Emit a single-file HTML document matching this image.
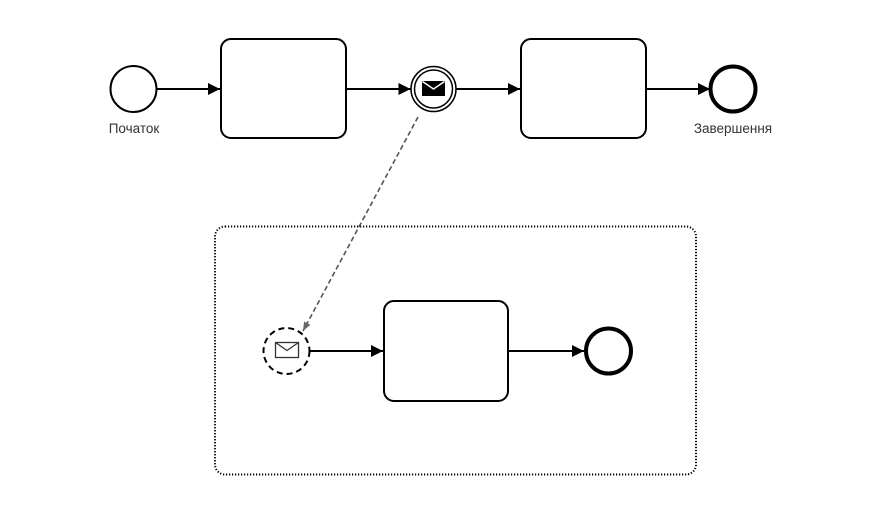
<!DOCTYPE html>
<html><head><meta charset="utf-8"><style>
html,body{margin:0;padding:0;background:#fff;}
svg{display:block;}
text{font-family:"Liberation Sans",Arial,sans-serif;font-size:13.5px;fill:#333;}
</style></head><body>
<svg width="876" height="513" viewBox="0 0 876 513" xmlns="http://www.w3.org/2000/svg">
<defs>
<marker id="ar" viewBox="0 0 12 12" refX="12" refY="6" markerWidth="12" markerHeight="12" markerUnits="userSpaceOnUse" orient="auto">
<path d="M0,0 L12,6 L0,12 z" fill="#000"/>
</marker>
<marker id="ar2" viewBox="0 0 10 10" refX="10" refY="5" markerWidth="9" markerHeight="9" markerUnits="userSpaceOnUse" orient="auto">
<path d="M0,1 L10,5 L0,9 z" fill="#666"/>
</marker>
</defs>

<!-- pool -->
<rect x="215" y="226.5" width="481" height="248" rx="10" ry="10" fill="none" stroke="#000" stroke-width="2" stroke-dasharray="1.2 1.8"/>

<!-- top flow -->
<circle cx="133.5" cy="89" r="23" fill="#fff" stroke="#000" stroke-width="2"/>
<text x="134" y="133" text-anchor="middle">Початок</text>
<line x1="156.5" y1="89" x2="220" y2="89" stroke="#000" stroke-width="2" marker-end="url(#ar)"/>
<rect x="221" y="39" width="125" height="99" rx="10" ry="10" fill="#fff" stroke="#000" stroke-width="2"/>
<line x1="346" y1="89" x2="410.5" y2="89" stroke="#000" stroke-width="2" marker-end="url(#ar)"/>

<circle cx="433.5" cy="89" r="22.5" fill="#fff" stroke="#000" stroke-width="1.5"/>
<circle cx="433.5" cy="89" r="19" fill="none" stroke="#000" stroke-width="1.5"/>
<rect x="422" y="81" width="23" height="15" fill="#000"/>
<path d="M422.5,81.5 L433.5,89 L444.5,81.5" fill="none" stroke="#fff" stroke-width="1.5"/>

<line x1="456" y1="89" x2="520" y2="89" stroke="#000" stroke-width="2" marker-end="url(#ar)"/>
<rect x="521" y="39" width="125" height="99" rx="10" ry="10" fill="#fff" stroke="#000" stroke-width="2"/>
<line x1="646" y1="89" x2="710" y2="89" stroke="#000" stroke-width="2" marker-end="url(#ar)"/>
<circle cx="733" cy="89" r="22.5" fill="#fff" stroke="#000" stroke-width="4"/>
<text x="733" y="133" text-anchor="middle">Завершення</text>

<!-- message flow -->
<line x1="418" y1="117" x2="303" y2="331" stroke="#555" stroke-width="1.6" stroke-dasharray="5 3" marker-end="url(#ar2)"/>

<!-- bottom flow -->
<circle cx="286.5" cy="351" r="23" fill="#fff" stroke="#000" stroke-width="2" stroke-dasharray="6 4"/>
<rect x="275.5" y="342.5" width="23" height="15" fill="#fff" stroke="#333" stroke-width="1.3"/>
<path d="M275.5,342.5 L287,350.5 L298.5,342.5" fill="none" stroke="#333" stroke-width="1.3"/>
<line x1="310" y1="351" x2="383" y2="351" stroke="#000" stroke-width="2" marker-end="url(#ar)"/>
<rect x="384" y="301" width="124" height="100" rx="10" ry="10" fill="#fff" stroke="#000" stroke-width="2"/>
<line x1="508" y1="351" x2="584" y2="351" stroke="#000" stroke-width="2" marker-end="url(#ar)"/>
<circle cx="608.5" cy="351" r="22.5" fill="#fff" stroke="#000" stroke-width="4"/>
</svg>
</body></html>
